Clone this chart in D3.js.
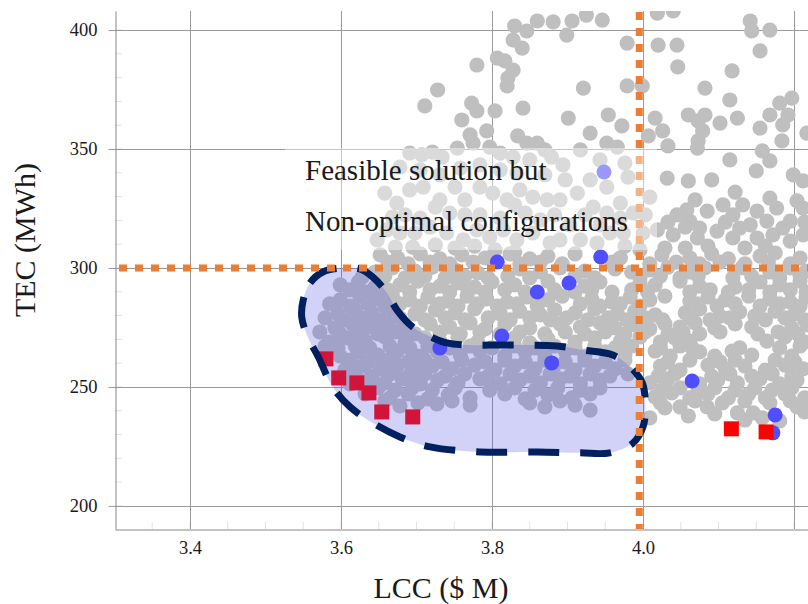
<!DOCTYPE html>
<html lang="en">

<head>
    <title>LCC vs TEC</title>
    <meta charset="utf-8" />
    <script src="https://d3js.org/d3.v7.min.js"></script>
    <style>
        body,
        html {
            margin: 0;
            padding: 0;
            background: #fff;
            overflow: hidden;
        }

        svg text {
            font-family: "Liberation Serif", "Times New Roman", serif;
            fill: #1a1a1a;
        }
    </style>
</head>

<body>
    <div id="chart"></div>
    <script>
        // axis ranges and ticks
        const lccRange = [3.3007, 4.2185];
        const tecRange = [190.3, 408];
        const lccTicks = [3.4, 3.6, 3.8, 4.0];
        const lccGrid = [3.4, 3.6, 3.8, 4.0, 4.2];
        const tecTicks = [200, 250, 300, 350, 400];

        // constraint limits (dotted orange)
        const lccLimit = 3.995;
        const tecLimit = 300;

        // feasible solutions (grey) [LCC, TEC]
        const feasible = [
            [3.830, 401.7], [3.846, 399.6], [3.860, 403.8], [3.881, 403.4], [3.906, 403.8], [3.925, 406.3], [3.946, 404.2],
            [3.828, 395.8], [3.840, 392.4], [3.899, 397.9], [3.979, 394.5], [4.019, 407.1], [4.040, 408.0], [4.020, 393.7],
            [4.045, 393.7], [4.142, 403.8], [4.144, 399.6], [4.168, 400.0], [4.155, 391.2], [3.807, 388.2], [3.817, 387.0],
            [3.780, 385.3], [3.828, 383.2], [3.821, 379.8], [3.820, 376.5], [3.921, 375.6], [3.728, 374.8], [3.711, 368.1],
            [3.773, 369.3], [3.780, 366.0], [3.804, 366.0], [3.841, 367.2], [3.901, 363.0], [3.760, 362.2], [3.771, 355.9],
            [3.793, 357.6], [3.834, 355.5], [3.930, 356.7], [3.860, 352.5], [4.046, 384.5], [4.118, 382.8], [3.979, 376.5],
            [3.999, 376.5], [4.082, 375.6], [4.115, 370.6], [3.954, 364.3], [3.972, 359.7], [4.016, 363.0], [4.026, 357.6],
            [4.007, 355.5], [4.060, 364.3], [4.073, 361.8], [4.082, 364.3], [4.079, 357.6], [4.073, 353.4], [4.102, 360.9],
            [4.125, 363.0], [4.155, 358.8], [4.168, 364.3], [4.181, 369.3], [4.197, 371.4], [4.192, 364.3], [4.185, 360.1],
            [4.184, 353.4], [4.033, 351.3], [4.158, 349.2], [4.217, 356.7], [4.115, 345.4], [4.072, 350.4], [4.150, 340.8],
            [4.168, 345.0],
            [3.691, 348.3], [3.707, 347.5], [3.721, 348.7], [3.734, 346.6], [3.754, 350.4], [3.775, 352.5], [3.797, 350.8],
            [3.811, 348.3], [3.828, 346.6], [3.846, 352.5], [3.870, 349.6], [3.879, 346.6], [3.850, 345.4], [3.833, 339.9],
            [3.678, 342.4], [3.894, 343.3], [3.930, 337.0], [3.952, 334.0], [3.976, 344.1], [3.980, 338.2], [4.009, 329.8],
            [3.970, 327.3], [3.987, 323.1], [3.913, 331.5], [3.890, 328.6], [3.952, 323.1], [3.934, 325.6], [3.956, 314.7],
            [3.974, 314.7], [4.000, 314.7], [4.019, 316.0], [3.917, 311.8], [3.890, 311.8], [3.939, 310.5], [3.966, 350.8],
            [3.952, 352.5], [3.658, 331.5], [3.674, 327.3], [3.691, 332.8], [3.709, 334.0], [3.731, 328.6], [3.751, 334.0],
            [3.764, 328.6], [3.784, 334.0], [3.801, 331.5], [3.820, 328.6], [3.837, 332.8], [3.854, 329.8], [3.873, 328.6],
            [3.685, 322.3], [3.705, 321.0], [3.744, 323.1], [3.784, 322.3], [3.811, 321.0], [3.844, 323.1], [3.864, 320.2],
            [3.648, 311.8], [3.661, 316.0], [3.678, 314.7], [3.698, 314.7], [3.718, 317.2], [3.740, 314.7], [3.762, 311.8],
            [3.780, 316.0], [3.797, 313.0], [3.815, 316.0], [3.833, 311.8], [3.854, 314.7], [3.877, 310.5], [3.672, 308.8],
            [3.695, 308.8], [3.725, 309.7], [3.751, 308.4], [3.777, 309.2], [3.804, 307.6], [3.830, 306.7], [3.903, 318.1],
            [3.923, 322.3], [3.996, 307.6],
            [3.668, 321.4], [3.725, 325.6], [3.764, 322.3], [3.830, 326.5], [3.883, 322.3], [3.943, 318.1], [3.970, 321.0],
            [4.003, 322.3], [3.943, 345.4], [3.917, 349.6], [3.897, 337.0], [3.870, 339.1], [3.811, 341.2], [3.784, 343.3],
            [3.758, 342.0], [3.731, 339.1], [3.705, 341.2], [3.976, 309.2],
            [4.032, 337.8], [4.060, 336.6], [4.091, 337.0], [4.199, 339.1], [4.212, 336.6], [4.204, 328.2], [4.168, 329.4],
            [4.045, 322.3], [4.062, 319.7], [4.085, 323.9], [4.106, 326.5], [4.119, 322.3], [4.132, 326.5], [4.151, 323.9],
            [4.142, 318.1], [4.164, 319.7], [4.177, 325.2], [4.195, 319.7], [4.212, 325.2], [4.040, 313.9], [4.072, 312.6],
            [4.098, 315.5], [4.119, 312.6], [4.151, 312.6], [4.172, 313.9], [4.195, 311.3], [4.212, 313.9], [4.056, 317.2],
            [4.058, 324.4],
            [4.029, 308.4], [4.056, 308.4], [4.086, 309.2], [4.135, 308.4], [4.162, 309.2], [4.185, 316.8], [4.075, 316.8],
            [4.109, 319.3], [4.128, 316.8], [4.033, 319.3], [4.069, 328.6], [4.122, 331.9], [4.214, 319.3],
            [3.652, 305.5], [3.675, 304.2], [3.705, 305.9], [3.731, 303.8], [3.760, 305.5], [3.791, 304.2], [3.824, 305.9],
            [3.850, 303.8], [3.874, 305.0], [3.910, 305.9], [3.970, 304.2], [4.025, 305.5], [4.062, 304.2], [4.091, 305.9],
            [4.113, 303.8], [4.155, 305.0], [4.175, 306.3], [4.208, 304.2],
            [3.662, 302.5], [3.689, 301.7], [3.718, 302.5], [3.744, 301.7], [3.775, 302.5], [3.837, 301.7], [3.864, 302.5],
            [3.893, 301.7], [3.959, 302.5], [4.009, 301.7], [4.044, 302.5], [4.075, 301.7], [4.102, 302.5], [4.135, 301.7],
            [4.166, 302.5], [4.195, 301.7],
            [3.645, 298.3], [3.668, 300.0], [3.698, 298.7], [3.721, 300.4], [3.751, 299.2], [3.781, 297.9], [3.837, 299.6],
            [3.864, 298.3], [3.890, 300.0], [3.923, 298.7], [3.963, 299.6], [3.985, 298.3], [4.009, 299.2], [4.033, 300.4],
            [4.062, 298.3], [4.082, 300.0], [4.131, 300.0], [4.168, 298.3], [4.195, 300.0], [4.216, 298.7],
            [3.658, 296.6], [3.685, 295.8], [3.711, 296.6], [3.738, 295.8], [3.764, 296.6], [3.795, 295.8], [3.821, 296.6],
            [3.850, 295.8], [3.910, 296.6], [3.936, 295.8], [3.996, 295.8], [4.023, 296.6], [4.049, 295.8],
            [4.073, 296.6], [4.119, 295.8], [4.144, 296.6], [4.181, 295.8], [4.208, 296.6],
            [3.623, 294.1], [3.645, 292.0], [3.678, 292.9], [3.702, 294.5], [3.731, 292.4], [3.755, 293.7], [3.777, 292.0],
            [3.800, 294.1], [3.830, 292.9], [3.874, 294.5], [3.923, 292.4], [3.943, 294.1], [3.996, 293.7],
            [4.016, 292.9], [4.049, 294.5], [4.075, 292.4], [4.122, 292.0], [4.155, 294.1], [4.181, 292.9], [4.208, 294.5],
            [3.628, 296.2], [3.599, 292.9],
            [3.612, 290.8], [3.636, 289.9], [3.662, 290.8], [3.691, 289.9], [3.718, 290.8], [3.744, 289.9], [3.768, 290.8],
            [3.791, 289.9], [3.817, 290.8], [3.844, 289.9], [3.883, 290.8], [3.910, 289.9], [3.932, 290.8], [3.959, 289.9],
            [3.985, 290.8], [4.006, 289.9], [4.062, 289.9], [4.089, 290.8], [4.113, 289.9], [4.140, 290.8],
            [4.168, 289.9], [4.195, 290.8], [4.216, 289.9],
            [3.599, 286.6], [3.625, 288.2], [3.649, 287.0], [3.668, 288.7], [3.691, 286.6], [3.715, 287.8], [3.742, 286.1],
            [3.767, 288.2], [3.793, 287.0], [3.820, 285.7], [3.846, 287.8], [3.874, 286.6], [3.893, 288.2], [3.932, 287.0],
            [3.959, 285.7], [3.983, 287.8], [4.009, 286.6], [4.029, 288.2], [4.062, 286.1], [4.086, 287.8], [4.109, 286.6],
            [4.140, 288.2], [4.168, 287.0], [4.195, 285.7], [4.216, 287.8],
            [3.585, 284.9], [3.612, 284.0], [3.636, 284.9], [3.658, 284.0], [3.678, 284.9], [3.705, 284.0], [3.731, 284.9],
            [3.755, 284.0], [3.781, 284.9], [3.807, 284.0], [3.833, 284.9], [3.860, 284.0], [3.917, 284.9], [3.943, 284.0],
            [3.970, 284.9], [3.996, 284.0], [4.072, 284.9], [4.098, 284.0], [4.122, 284.9], [4.155, 284.0], [4.181, 284.9],
            [4.208, 284.0],
            [3.596, 280.7], [3.619, 282.4], [3.641, 281.1], [3.665, 282.8], [3.698, 280.7], [3.725, 282.4], [3.751, 281.1],
            [3.777, 282.8], [3.811, 280.7], [3.837, 281.9], [3.864, 280.3], [3.883, 282.4], [3.910, 281.1], [3.936, 282.8],
            [3.966, 280.7], [3.989, 281.9], [4.016, 280.3], [4.056, 281.1], [4.075, 282.8], [4.102, 279.8], [4.128, 281.5],
            [4.148, 279.8], [4.175, 281.9], [4.201, 280.7],
            [3.579, 279.0], [3.605, 278.2], [3.628, 279.0], [3.652, 278.2], [3.678, 279.0], [3.711, 278.2], [3.738, 279.0],
            [3.764, 278.2], [3.795, 279.0], [3.824, 278.2], [3.850, 279.0], [3.877, 278.2], [3.899, 279.0], [3.927, 278.2],
            [3.954, 279.0], [3.979, 278.2], [4.003, 279.0], [4.026, 278.2], [4.062, 279.0], [4.089, 278.2], [4.115, 279.0],
            [4.162, 278.2], [4.188, 279.0], [4.214, 278.2],
            [3.592, 274.8], [3.615, 276.5], [3.638, 275.2], [3.662, 276.9], [3.685, 274.8], [3.718, 276.5], [3.744, 275.2],
            [3.771, 276.9], [3.791, 274.4], [3.817, 276.1], [3.850, 274.8], [3.890, 276.5], [3.917, 275.2], [3.943, 276.9],
            [3.963, 274.8], [3.989, 276.1], [4.009, 274.4], [4.029, 276.5], [4.049, 275.2], [4.069, 276.9], [4.095, 274.8],
            [4.122, 276.5], [4.144, 275.2], [4.197, 274.8], [4.218, 276.1],
            [3.572, 273.1], [3.599, 272.3], [3.623, 273.1], [3.649, 272.3], [3.672, 273.1], [3.698, 272.3], [3.731, 273.1],
            [3.758, 272.3], [3.784, 273.1], [3.811, 272.3], [3.837, 273.1], [3.870, 272.3], [3.897, 273.1], [3.923, 272.3],
            [3.950, 273.1], [3.976, 272.3], [4.003, 273.1], [4.033, 272.3], [4.053, 273.1], [4.075, 272.3], [4.102, 273.1],
            [4.152, 272.3], [4.179, 273.1], [4.205, 272.3],
            [3.585, 268.9], [3.609, 270.6], [3.632, 269.3], [3.658, 271.0], [3.685, 268.9], [3.711, 270.6], [3.731, 269.3],
            [3.755, 271.0], [3.781, 268.9], [3.830, 270.6], [3.850, 268.5], [3.874, 270.2], [3.910, 268.9], [3.936, 270.6],
            [3.970, 269.3], [3.996, 271.0], [4.023, 268.9], [4.042, 270.6], [4.062, 269.3], [4.164, 269.3],
            [4.188, 271.0], [4.214, 268.9],
            [3.579, 267.2], [3.596, 266.4], [3.619, 267.2], [3.638, 266.4], [3.665, 267.2], [3.691, 266.4], [3.715, 267.2],
            [3.744, 266.4], [3.771, 267.2], [3.800, 266.4], [3.830, 267.2], [3.857, 266.4], [3.883, 267.2], [3.910, 266.4],
            [3.936, 267.2], [3.963, 266.4], [3.985, 267.2], [4.023, 266.4], [4.049, 267.2], [4.065, 266.4],
            [4.128, 266.4], [4.181, 266.4], [4.208, 267.2],
            [3.599, 263.0], [3.623, 264.7], [3.649, 263.4], [3.675, 265.1], [3.702, 263.0], [3.728, 264.7], [3.758, 263.4],
            [3.784, 265.1], [3.817, 263.0], [3.844, 264.7], [3.870, 263.4], [3.897, 265.1], [3.923, 263.0], [3.950, 264.7],
            [3.976, 263.4], [4.016, 265.1], [4.036, 263.0], [4.075, 264.7], [4.095, 263.0], [4.118, 265.1], [4.144, 263.4],
            [4.197, 263.0],
            [3.612, 261.3], [3.636, 260.5], [3.662, 261.3], [3.689, 260.5], [3.711, 261.3], [3.734, 260.5], [3.760, 261.3],
            [3.791, 260.5], [3.817, 261.3], [3.844, 260.5], [3.870, 261.3], [3.897, 260.5], [3.923, 261.3], [3.950, 260.5],
            [3.976, 261.3], [4.033, 260.5], [4.062, 261.3], [4.102, 260.5], [4.122, 261.3], [4.175, 261.3],
            [4.201, 260.5],
            [3.605, 257.1], [3.628, 258.8], [3.652, 257.6], [3.675, 259.2], [3.698, 257.1], [3.721, 258.8], [3.747, 257.6],
            [3.777, 259.2], [3.804, 257.1], [3.830, 258.8], [3.857, 257.6], [3.883, 259.2], [3.910, 257.1], [3.936, 258.8],
            [3.963, 257.6], [4.023, 258.8], [4.049, 257.1], [4.086, 259.2], [4.109, 257.6], [4.135, 258.8], [4.162, 257.1],
            [4.188, 259.2], [4.212, 257.6],
            [3.619, 255.5], [3.641, 254.6], [3.665, 255.5], [3.689, 254.6], [3.711, 255.5], [3.738, 254.6], [3.764, 255.5],
            [3.795, 254.6], [3.824, 255.5], [3.850, 254.6], [3.877, 255.5], [3.903, 254.6], [3.930, 255.5], [3.956, 254.6],
            [3.980, 255.5], [4.020, 254.6], [4.042, 255.5], [4.091, 254.6], [4.115, 255.5], [4.144, 254.6], [4.171, 255.5],
            [4.197, 254.6],
            [3.612, 251.3], [3.636, 252.9], [3.658, 251.7], [3.681, 253.4], [3.705, 251.3], [3.728, 252.9], [3.755, 251.7],
            [3.784, 253.4], [3.811, 251.3], [3.837, 252.9], [3.864, 251.7], [3.890, 253.4], [3.917, 251.3], [3.943, 252.9],
            [4.009, 251.7], [4.033, 253.4], [4.075, 251.3], [4.099, 252.9], [4.125, 251.7], [4.155, 253.4], [4.181, 251.3],
            [4.204, 252.9],
            [3.649, 249.6], [3.672, 248.7], [3.694, 249.6], [3.721, 248.7], [3.751, 249.6], [3.797, 248.7], [3.830, 249.6],
            [3.857, 248.7], [3.887, 249.6], [3.917, 248.7], [3.943, 249.6], [4.025, 248.7], [4.049, 249.6], [4.073, 248.7],
            [4.095, 249.6], [4.122, 248.7], [4.148, 249.6], [4.171, 248.7], [4.197, 249.6],
            [3.632, 247.1], [3.665, 245.4], [3.689, 247.1], [3.715, 245.0], [3.742, 246.6], [3.771, 245.4], [3.817, 247.1],
            [3.844, 245.0], [3.874, 246.6], [3.906, 245.4], [3.930, 247.1], [4.016, 245.8], [4.038, 247.5], [4.062, 245.4],
            [4.086, 247.1], [4.113, 245.4], [4.140, 247.1], [4.162, 245.4], [4.188, 247.1], [4.214, 245.4],
            [3.658, 244.1], [3.702, 243.3], [3.747, 244.1], [3.850, 243.3], [3.890, 244.1], [4.023, 243.3], [4.069, 244.1],
            [4.105, 243.3], [4.135, 244.1], [4.168, 243.3], [4.195, 244.1],
            [3.678, 242.0], [3.727, 242.9], [3.771, 242.4], [3.870, 241.6], [3.910, 242.4], [3.930, 240.3], [4.029, 241.2],
            [4.049, 241.6], [4.085, 241.6], [4.125, 239.1], [4.146, 239.1], [4.204, 241.6],
            [4.009, 237.0], [4.060, 237.8], [4.095, 238.7], [4.135, 236.1], [4.158, 237.0], [4.181, 235.7], [4.214, 239.5]
        ];

        // feasible but non-optimal configurations (blue)
        const nonOptimal = [
            [3.731, 266.4], [3.813, 271.4], [3.879, 260.1], [4.065, 252.5], [4.175, 238.2],
            [4.172, 230.7], [3.807, 302.5], [3.860, 289.9], [3.902, 293.7], [3.944, 304.6]
        ];

        // optimal configurations (red squares)
        const optimal = [
            [3.580, 261.8], [3.597, 253.8], [3.621, 251.7], [3.637, 247.5],
            [3.654, 239.5], [3.695, 237.4], [4.117, 232.4], [4.163, 231.1]
        ];

        // outline of the highlighted region
        const region = [
            [3.550, 286.6], [3.559, 293.7], [3.576, 298.3], [3.603, 300.0], [3.625, 299.6], [3.642, 296.2],
            [3.661, 289.5], [3.674, 282.4], [3.695, 275.2], [3.722, 270.6], [3.740, 268.5], [3.767, 267.6],
            [3.797, 267.6], [3.841, 267.6], [3.886, 267.2], [3.921, 265.5], [3.960, 263.4], [3.983, 258.4],
            [3.999, 251.7], [4.003, 241.6], [4.000, 233.2], [3.987, 226.5], [3.956, 222.3], [3.917, 222.3],
            [3.860, 222.7], [3.784, 222.7], [3.718, 224.8], [3.678, 229.0], [3.642, 234.9], [3.612, 241.6],
            [3.589, 250.0], [3.570, 262.6], [3.556, 271.0], [3.548, 279.4]
        ];

        const legendLines = ["Feasible solution but", "Non-optimal configurations"];

        const W = 808, H = 604;
        const plotLeft = 115, plotRight = 808, plotTop = 11, plotBottom = 529;
        const serif = '"Liberation Serif", "Times New Roman", serif';

        const svg = d3.select("#chart").append("svg")
            .attr("width", W)
            .attr("height", H);

        const x = d3.scaleLinear().domain(lccRange).range([plotLeft, plotRight]);
        const y = d3.scaleLinear().domain(tecRange).range([plotBottom, plotTop]);

        // minor ticks (very faint)
        svg.append("g").selectAll("line")
            .data(d3.range(67, 85).map(i => i * 0.05))
            .enter().append("line")
            .attr("x1", d => x(d)).attr("x2", d => x(d))
            .attr("y1", plotBottom).attr("y2", plotBottom - 7)
            .attr("stroke", "#e2e2e2");
        svg.append("g").selectAll("line")
            .data(d3.range(20, 41).map(i => i * 10))
            .enter().append("line")
            .attr("x1", plotLeft).attr("x2", plotLeft + 7)
            .attr("y1", d => y(d)).attr("y2", d => y(d))
            .attr("stroke", "#e2e2e2");

        // grid
        const grid = svg.append("g").attr("stroke", "#9a9a9a").attr("stroke-width", 1);
        grid.selectAll(".gx")
            .data(lccGrid)
            .enter().append("line")
            .attr("x1", d => Math.round(x(d)) + 0.5).attr("x2", d => Math.round(x(d)) + 0.5)
            .attr("y1", plotTop).attr("y2", plotBottom);
        grid.selectAll(".gy")
            .data(tecTicks)
            .enter().append("line")
            .attr("x1", plotLeft).attr("x2", plotRight)
            .attr("y1", d => Math.round(y(d)) + 0.5).attr("y2", d => Math.round(y(d)) + 0.5);

        // axes
        const yAxis = svg.append("g")
            .attr("transform", `translate(${plotLeft + 0.5},0)`)
            .call(d3.axisLeft(y).tickValues(tecTicks).tickSize(7).tickSizeOuter(0).tickPadding(11));
        const xAxis = svg.append("g")
            .attr("transform", `translate(0,${plotBottom + 0.5})`)
            .call(d3.axisBottom(x).tickValues(lccTicks).tickSize(0).tickSizeOuter(0).tickPadding(11)
                .tickFormat(d3.format(".1f")));
        [xAxis, yAxis].forEach(a => {
            a.attr("font-family", serif).attr("font-size", 18.5);
            a.selectAll("path").attr("stroke", "#888");
            a.selectAll("line").attr("stroke", "#999");
            a.selectAll("text")
                .attr("fill", "#1a1a1a")
                .style("font-family", serif);
        });

        // plot area
        svg.append("clipPath").attr("id", "plot")
            .append("rect")
            .attr("x", plotLeft + 1).attr("y", plotTop)
            .attr("width", plotRight - plotLeft).attr("height", plotBottom - plotTop);
        const plot = svg.append("g").attr("clip-path", "url(#plot)");

        plot.append("g").selectAll("circle")
            .data(feasible)
            .enter().append("circle")
            .attr("cx", d => x(d[0]))
            .attr("cy", d => y(d[1]))
            .attr("r", 7.6)
            .attr("fill", "#bfbfbf");

        plot.append("g").selectAll("circle")
            .data(nonOptimal)
            .enter().append("circle")
            .attr("cx", d => x(d[0]))
            .attr("cy", d => y(d[1]))
            .attr("r", 7.5)
            .attr("fill", "#4f4fff");

        plot.append("g").selectAll("rect")
            .data(optimal)
            .enter().append("rect")
            .attr("x", d => x(d[0]) - 7.5)
            .attr("y", d => y(d[1]) - 7.5)
            .attr("width", 15)
            .attr("height", 15)
            .attr("fill", "#ff0000");

        // highlighted region: translucent fill, dashed navy outline
        const outline = d3.line()
            .x(d => x(d[0]))
            .y(d => y(d[1]))
            .curve(d3.curveCatmullRomClosed.alpha(0.5));
        plot.append("path")
            .datum(region)
            .attr("d", outline)
            .attr("fill", "#4b4be8")
            .attr("fill-opacity", 0.25)
            .attr("stroke", "#002060")
            .attr("stroke-width", 7)
            .attr("stroke-dasharray", "31 21");

        // constraint lines
        plot.append("line")
            .attr("x1", x(lccRange[0]) + 4).attr("x2", plotRight)
            .attr("y1", y(tecLimit)).attr("y2", y(tecLimit))
            .attr("stroke", "#ed7d31")
            .attr("stroke-width", 7)
            .attr("stroke-dasharray", "8 8");
        plot.append("line")
            .attr("x1", x(lccLimit)).attr("x2", x(lccLimit))
            .attr("y1", plotTop + 1).attr("y2", plotBottom)
            .attr("stroke", "#ed7d31")
            .attr("stroke-width", 7)
            .attr("stroke-dasharray", "8 8");

        // legend
        const legend = svg.append("g");
        legend.append("circle")
            .attr("cx", 604).attr("cy", 172).attr("r", 7.5)
            .attr("fill", "#4f4fff");
        legend.append("rect")
            .attr("x", 285).attr("y", 148)
            .attr("width", 372).attr("height", 102)
            .attr("fill", "#fff")
            .attr("fill-opacity", 0.42);
        legend.selectAll("text")
            .data(legendLines)
            .enter().append("text")
            .attr("x", 305)
            .attr("y", (d, i) => 180 + i * 51)
            .attr("font-size", 29)
            .text(d => d);

        // axis titles
        svg.append("text")
            .attr("x", 441).attr("y", 598)
            .attr("text-anchor", "middle")
            .attr("font-size", 30)
            .text("LCC ($ M)");
        svg.append("text")
            .attr("transform", "translate(35,240) rotate(-90)")
            .attr("text-anchor", "middle")
            .attr("font-size", 30)
            .text("TEC (MWh)");
    </script>
</body>

</html>
